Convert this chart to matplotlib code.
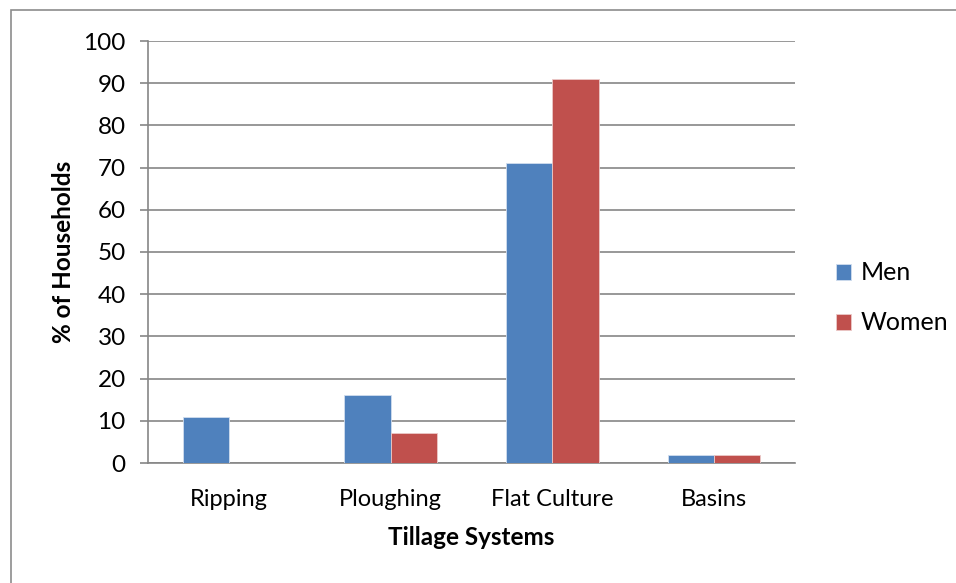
import numpy as np
import matplotlib.pyplot as plt
from matplotlib.patches import Rectangle

# ---------------- Data ---------------- #
categories = ['Ripping', 'Ploughing', 'Flat Culture', 'Basins']
men = [11, 16, 71, 2]
women = [0, 7, 91, 2]
y_ticks = list(range(0, 101, 10))

blue = '#4F81BD'
red = '#C0504D'
grid_col = '#868686'

plt.rcParams['font.family'] = ['Lato', 'DejaVu Sans']

fig = plt.figure(figsize=(9.56, 5.83), dpi=100)
W, H = 956, 583
ax = fig.add_axes([148 / W, 1 - 463 / H, (795 - 148) / W, (463 - 41) / H])

# ---------------- Bars ---------------- #
x = np.arange(len(categories))
bw = 1 / 3.5
ax.bar(x - bw / 2, men, bw, color=blue, edgecolor='#D0DDEE', linewidth=0.6, label='Men', zorder=3)
ax.bar(x + bw / 2, women, bw, color=red, edgecolor='#EBC9C8', linewidth=0.6, label='Women', zorder=3)

# ---------------- Axes styling ---------------- #
ax.set_xlim(-0.5, len(categories) - 0.5)
ax.set_ylim(0, 100)
ax.set_yticks(y_ticks)
ax.set_xticks(x)
ax.set_xticklabels(categories)
ax.yaxis.grid(True, color=grid_col, linewidth=1.2, zorder=0)
ax.set_axisbelow(True)
for s in ['top', 'right']:
    ax.spines[s].set_visible(False)
ax.spines['left'].set_color(grid_col)
ax.spines['bottom'].set_color(grid_col)
ax.spines['left'].set_linewidth(1.2)
ax.spines['bottom'].set_linewidth(1.2)
ax.tick_params(axis='y', length=6, color=grid_col, width=1.2, labelsize=17.5, pad=10)
ax.tick_params(axis='x', length=0, labelsize=17, pad=19)

ax.set_ylabel('% of Households', fontsize=17.5, fontweight='bold', labelpad=6)
ax.set_xlabel('Tillage Systems', fontsize=17.5, fontweight='bold', labelpad=11)

fig.legend(loc='center left', bbox_to_anchor=(836 / W, 1 - 298 / H), frameon=False,
           fontsize=18, handlelength=0.6, handleheight=0.6, labelspacing=1.08,
           handletextpad=0.4, borderpad=0, borderaxespad=0)

# outer chart frame
fig.patches.append(Rectangle((11 / W, -0.05), 1.1, 1 - 10 / H + 0.05,
                             transform=fig.transFigure, fill=False,
                             edgecolor='#8C8C8C', linewidth=1.2))

fig.savefig('out.png', dpi=100)
